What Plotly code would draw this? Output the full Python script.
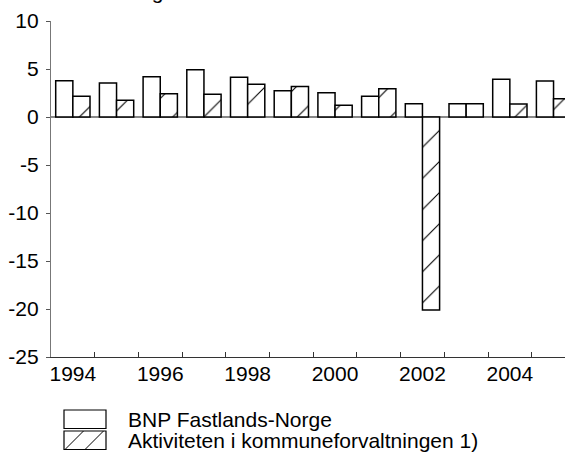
import plotly.graph_objects as go

years = [1994, 1995, 1996, 1997, 1998, 1999, 2000, 2001, 2002, 2003, 2004, 2005]
bnp = [3.78, 3.54, 4.2, 4.93, 4.13, 2.74, 2.53, 2.15, 1.39, 1.39, 3.92, 3.75]
kommune = [2.15, 1.74, 2.43, 2.36, 3.40, 3.19, 1.22, 2.95, -20.1, 1.39, 1.35, 1.91]
tick_years = [1994, 1996, 1998, 2000, 2002, 2004]
y_ticks = [-25, -20, -15, -10, -5, 0, 5, 10]
y_labels = ["-25", "-20", "-15", "-10", "-5", "0", "5", "10"]
name_bnp = "BNP Fastlands-Norge"
name_kom = "Aktiviteten i kommuneforvaltningen 1)"
title_text = "Volumendring"

W, H = 565, 459
L, T, B = 51, 21, 102
plot_w = W - L
plot_h = H - T - B
cat_px = 43.7
x0 = min(years) - 0.5
x1 = x0 + plot_w / cat_px

FONT = "Liberation Sans, Arial, sans-serif"
fs = 21

fig = go.Figure()
fig.add_bar(x=years, y=bnp, name=name_bnp,
            marker=dict(color="white", line=dict(color="black", width=1.5)))
fig.add_bar(x=years, y=kommune, name=name_kom,
            marker=dict(color="white", line=dict(color="black", width=1.5),
                        pattern=dict(shape="/", fgcolor="black", bgcolor="white",
                                     fgopacity=1, size=22, solidity=0.05)))

fig.update_layout(
    width=W, height=H,
    margin=dict(l=L, r=0, t=T, b=B, pad=0, autoexpand=False),
    paper_bgcolor="white", plot_bgcolor="white",
    barmode="group", bargap=0.215, bargroupgap=0,
    showlegend=False,
    font=dict(family=FONT, size=fs, color="black"),
)
fig.update_xaxes(
    range=[x0, x1], tickvals=tick_years, ticktext=[str(t) for t in tick_years],
    ticks="", showgrid=False, zeroline=False, automargin=False,
    showline=True, linecolor="#333333", linewidth=1.3,
    minor=dict(tickvals=[y + 0.5 for y in years], ticks="inside", ticklen=5,
               tickcolor="#333333", tickwidth=1, showgrid=False),
    ticklabelstandoff=-2,
    tickfont=dict(family=FONT, size=fs),
)
fig.update_yaxes(
    range=[-25, 10], tickvals=y_ticks, ticktext=y_labels,
    ticks="outside", ticklen=4, automargin=False,
    tickcolor="#555555", tickwidth=1,
    showgrid=False, zeroline=True, zerolinecolor="#888888", zerolinewidth=2,
    showline=True, linecolor="#777777", linewidth=1.3,
    ticklabelstandoff=3,
    tickfont=dict(family=FONT, size=fs),
)

def px_x(p):
    return (p - L) / plot_w

def px_y(p):
    return 1 - (p - T) / plot_h

# title (mostly above the visible page)
fig.add_annotation(text=title_text, xref="paper", yref="paper",
                   x=px_x(33), y=px_y(5),
                   xanchor="left", yanchor="bottom", showarrow=False,
                   font=dict(family=FONT, size=fs))

# legend drawn with shapes
boxes = [(410, 428.5), (431, 449.5)]
bx0, bx1 = 64, 106
for ya, yb in boxes:
    fig.add_shape(type="rect", xref="paper", yref="paper",
                  x0=px_x(bx0), x1=px_x(bx1), y0=px_y(yb), y1=px_y(ya),
                  line=dict(color="black", width=1.2), fillcolor="white")
names = [name_bnp, name_kom]
for i, (ya, yb) in enumerate(boxes):
    fig.add_annotation(text=names[i], xref="paper", yref="paper",
                       x=px_x(126), y=px_y((ya + yb) / 2), xanchor="left", yanchor="middle",
                       showarrow=False, font=dict(family=FONT, size=fs))
ya, yb = boxes[1]
for sx in (bx0 + 1, bx0 + 21):
    fig.add_shape(type="line", xref="paper", yref="paper",
                  x0=px_x(sx), y0=px_y(yb), x1=px_x(sx + (yb - ya)), y1=px_y(ya),
                  line=dict(color="black", width=1))

fig.write_html("out.html", config={"displayModeBar": False},
               post_script="document.body.style.margin='0px';document.body.style.overflow='hidden';")
